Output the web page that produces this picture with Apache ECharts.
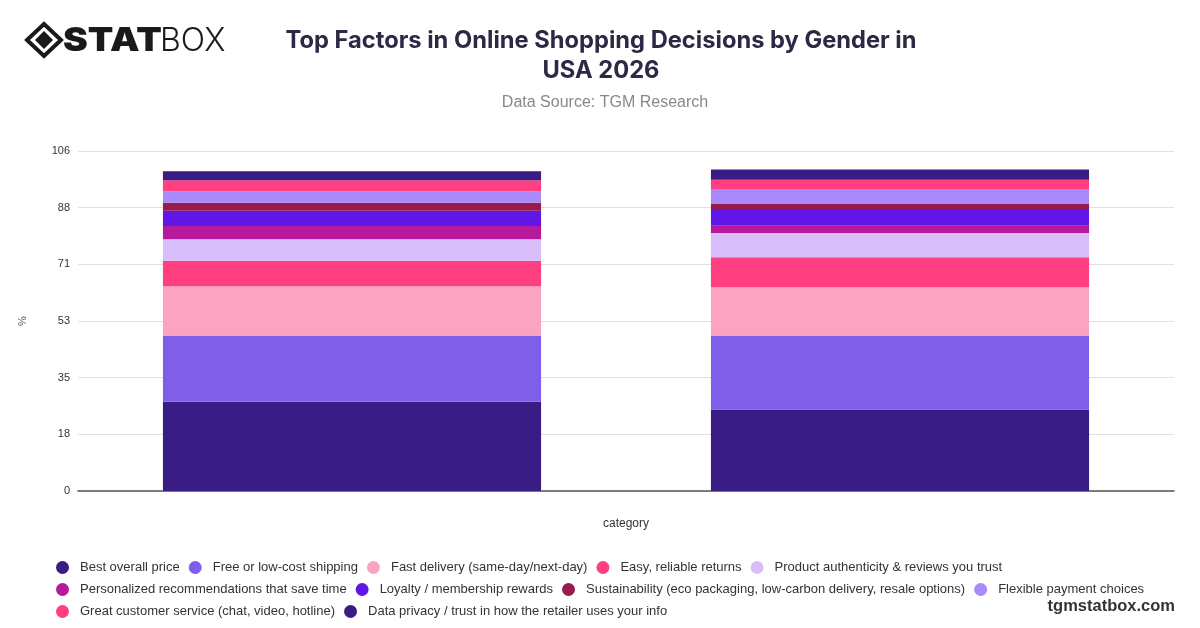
<!DOCTYPE html>
<html>
<head>
<meta charset="utf-8">
<script src="https://cdn.jsdelivr.net/npm/echarts@6/dist/echarts.min.js"></script>
<style>
html,body{margin:0;padding:0;background:#fff;}
#chart{width:1200px;height:628px;}
</style>
</head>
<body>
<div id="chart"></div>
<script>
const categories = ["Male", "Female"];
const seriesNames = [
  "Best overall price",
  "Free or low-cost shipping",
  "Fast delivery (same-day/next-day)",
  "Easy, reliable returns",
  "Product authenticity & reviews you trust",
  "Personalized recommendations that save time",
  "Loyalty / membership rewards",
  "Sustainability (eco packaging, low-carbon delivery, resale options)",
  "Flexible payment choices",
  "Great customer service (chat, video, hotline)",
  "Data privacy / trust in how the retailer uses your info"
];
const bestPrice = [27.8, 25.4];
const freeShipping = [20.7, 23.1];
const fastDelivery = [15.3, 15.0];
const easyReturns = [8.0, 9.4];
const authenticity = [6.7, 7.5];
const personalized = [4.1, 2.3];
const loyalty = [4.8, 5.2];
const sustainability = [2.5, 1.6];
const flexiblePayment = [3.5, 4.4];
const customerService = [3.5, 3.1];
const dataPrivacy = [2.8, 3.2];
const yTicks = [0, 18, 35, 53, 71, 88, 106];

const seriesValues = [bestPrice, freeShipping, fastDelivery, easyReturns, authenticity,
  personalized, loyalty, sustainability, flexiblePayment, customerService, dataPrivacy];
const colors = ["#391d84", "#7f5eea", "#fca3c1", "#ff3f80", "#d8bdfb",
  "#b51a9c", "#6016e6", "#9a1a4e", "#a98afa", "#ff3f80", "#391d84"];

const chart = echarts.init(document.getElementById('chart'), null, {renderer: 'canvas'});
const font = "'Liberation Sans', Arial, sans-serif";

chart.setOption({
  animation: false,
  backgroundColor: '#ffffff',
  color: colors,
  title: [
    {
      text: 'Top Factors in Online Shopping Decisions by Gender in\nUSA 2026',
      left: 596, top: 21, textAlign: 'center',
      textStyle: {fontFamily: 'Inter', fontWeight: 700, fontSize: 23.7, lineHeight: 30, color: '#2b2945'}
    },
    {
      text: 'Data Source: TGM Research',
      left: 600, top: 90, textAlign: 'center',
      textStyle: {fontFamily: font, fontWeight: 400, fontSize: 16, color: '#888888'}
    }
  ],
  grid: {left: 78, right: 26, top: 151, bottom: 137, containLabel: false},
  legend: {
    left: 51, right: 40, top: 556,
    icon: 'circle', itemWidth: 13, itemHeight: 13, itemGap: 9,
    textStyle: {fontFamily: font, fontSize: 13, color: '#333333', padding: [0, 0, 0, 6]},
    data: seriesNames
  },
  xAxis: {
    type: 'category', data: categories,
    name: 'category', nameLocation: 'middle', nameGap: 27,
    nameTextStyle: {fontFamily: font, fontSize: 12, color: '#333333'},
    axisLine: {lineStyle: {color: '#555555', width: 1.5}},
    axisTick: {show: false},
    axisLabel: {show: false}
  },
  yAxis: {
    type: 'value', min: 0, max: 106, interval: 106 / 6,
    name: '%', nameLocation: 'middle', nameGap: 50,
    nameTextStyle: {fontFamily: font, fontSize: 11, color: '#555555'},
    axisLine: {show: false}, axisTick: {show: false},
    axisLabel: {fontFamily: font, fontSize: 11, color: '#333333', margin: 8,
      formatter: v => String(yTicks.reduce((a, b) => Math.abs(b - v) < Math.abs(a - v) ? b : a))},
    splitLine: {lineStyle: {color: '#e0e0e0'}}
  },
  series: seriesNames.map((n, i) => ({
    name: n, type: 'bar', stack: 'total',
    barCategoryGap: '31%',
    data: seriesValues[i],
    itemStyle: {color: colors[i]}
  })),
  graphic: [
    {type: 'polygon', shape: {points: [[44, 24], [61, 40], [44, 56], [27, 40]]},
      style: {fill: 'none', stroke: '#1a1a1a', lineWidth: 4}},
    {type: 'polygon', shape: {points: [[44, 31], [53, 40], [44, 49], [35, 40]]},
      style: {fill: '#1a1a1a'}},
    {type: 'text', x: 63, y: 25, scaleX: 1.13,
      style: {text: 'STAT', font: "900 33px Inter", fill: '#1a1a1a'}},
    {type: 'text', x: 160, y: 25,
      style: {text: 'BOX', font: "300 32px Inter", fill: '#1a1a1a'}},
    {type: 'text', right: 25, top: 598,
      style: {text: 'tgmstatbox.com', font: "bold 16.5px " + font, fill: '#333333'}}
  ]
});
</script>
</body>
</html>
